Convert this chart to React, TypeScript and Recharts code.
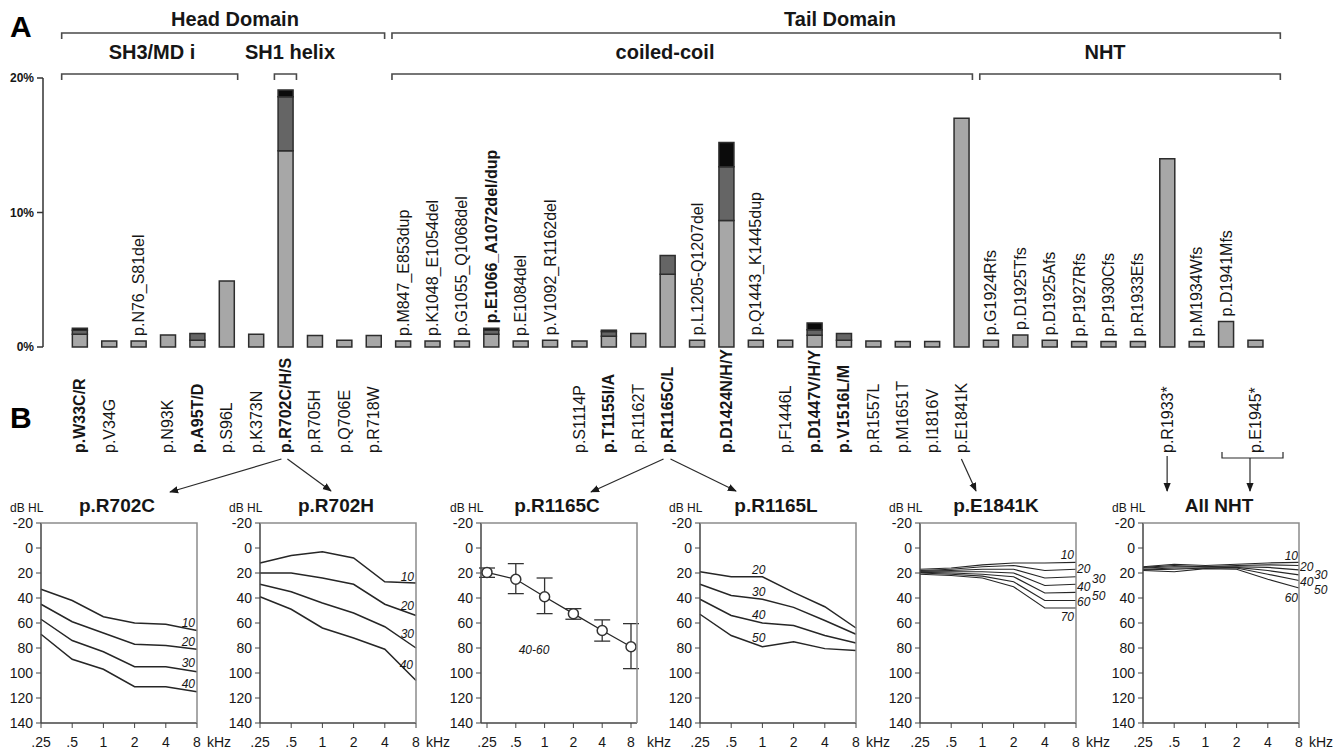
import React from 'react';
import { BarChart, Bar, XAxis, YAxis, LabelList, LineChart, Line, ErrorBar } from 'recharts';

// ---------- Panel A: share of families per MYH9 variant (%) ----------
const mutations = [
  'p.W33C/R', 'p.V34G', 'p.N76_S81del', 'p.N93K', 'p.A95T/D', 'p.S96L', 'p.K373N', 'p.R702C/H/S',
  'p.R705H', 'p.Q706E', 'p.R718W',
  'p.M847_E853dup', 'p.K1048_E1054del', 'p.G1055_Q1068del', 'p.E1066_A1072del/dup', 'p.E1084del',
  'p.V1092_R1162del', 'p.S1114P', 'p.T1155I/A', 'p.R1162T', 'p.R1165C/L', 'p.L1205-Q1207del',
  'p.D1424N/H/Y', 'p.Q1443_K1445dup', 'p.F1446L', 'p.D1447V/H/Y', 'p.V1516L/M', 'p.R1557L',
  'p.M1651T', 'p.I1816V', 'p.E1841K',
  'p.G1924Rfs', 'p.D1925Tfs', 'p.D1925Afs', 'p.P1927Rfs', 'p.P1930Cfs', 'p.R1933Efs', 'p.R1933*',
  'p.M1934Wfs', 'p.D1941Mfs', 'p.E1945*',
];
const lightShare = [
  0.95, 0.45, 0.45, 0.9, 0.5, 4.9, 0.95, 14.6, 0.85, 0.5, 0.85,
  0.45, 0.45, 0.45, 0.95, 0.45, 0.5, 0.45, 0.8, 1.0, 5.4, 0.5, 9.4, 0.5, 0.5, 0.87, 0.5, 0.45, 0.4, 0.4, 17.0,
  0.5, 0.9, 0.5, 0.4, 0.4, 0.4, 14.0, 0.4, 1.9, 0.5,
];
const darkShare = [
  0.3, 0, 0, 0, 0.5, 0, 0, 4.0, 0, 0, 0,
  0, 0, 0, 0.3, 0, 0, 0, 0.35, 0, 1.4, 0, 4.0, 0, 0, 0.42, 0.5, 0, 0, 0, 0,
  0, 0, 0, 0, 0, 0, 0, 0, 0, 0,
];
const blackShare = [
  0.15, 0, 0, 0, 0, 0, 0, 0.5, 0, 0, 0,
  0, 0, 0, 0.15, 0, 0, 0, 0.1, 0, 0, 0, 1.8, 0, 0, 0.5, 0, 0, 0, 0, 0,
  0, 0, 0, 0, 0, 0, 0, 0, 0, 0,
];
const labelAboveBar = [
  'p.N76_S81del', 'p.M847_E853dup', 'p.K1048_E1054del', 'p.G1055_Q1068del', 'p.E1066_A1072del/dup',
  'p.E1084del', 'p.V1092_R1162del', 'p.L1205-Q1207del', 'p.Q1443_K1445dup', 'p.G1924Rfs', 'p.D1925Tfs',
  'p.D1925Afs', 'p.P1927Rfs', 'p.P1930Cfs', 'p.R1933Efs', 'p.M1934Wfs', 'p.D1941Mfs',
];
const boldMutations = [
  'p.W33C/R', 'p.A95T/D', 'p.R702C/H/S', 'p.E1066_A1072del/dup', 'p.T1155I/A', 'p.R1165C/L',
  'p.D1424N/H/Y', 'p.D1447V/H/Y', 'p.V1516L/M',
];
const pctTicks = [0, 10, 20];

// ---------- Panel B: audiograms (dB HL) per age decade ----------
const freqs = ['.25', '.5', '1', '2', '4', '8'];
const dbTicks = [-20, 0, 20, 40, 60, 80, 100, 120, 140];

const r702cAges = ['10', '20', '30', '40'];
const r702cCurves = [
  [33, 42, 55, 60, 61, 66],
  [45, 59, 68, 77, 78, 81],
  [57, 74, 83, 95, 95, 99],
  [69, 89, 97, 111, 111, 115],
];
const r702hAges = ['10', '20', '30', '40'];
const r702hCurves = [
  [12, 6, 3, 8, 27, 28],
  [20, 20, 24, 29, 45, 54],
  [29, 35, 44, 52, 63, 80],
  [39, 49, 64, 72, 81, 106],
];
const r1165cMean = [19.5, 25, 39, 52.5, 66, 79];
const r1165cErrLow = [3.5, 12.5, 15, 4, 8.5, 18.5];
const r1165cErrHigh = [4, 11.5, 13.5, 4.5, 8.5, 17.5];
const r1165lAges = ['20', '30', '40', '50'];
const r1165lCurves = [
  [19, 23, 23, 35.5, 47, 64],
  [29, 38, 41, 47.5, 58, 69],
  [41, 54, 60, 62, 70, 76],
  [53, 70, 79, 75, 80.5, 82],
];
const e1841kAges = ['10', '20', '30', '40', '50', '60', '70'];
const e1841kCurves = [
  [17, 16, 13.5, 12, 12, 11.5],
  [18, 17, 15, 14, 18, 17],
  [18.5, 18, 17, 17, 24, 23],
  [19, 19, 19, 20, 30, 29],
  [19.5, 20, 21, 23, 36, 35.5],
  [20, 21, 22.5, 27, 42, 42],
  [21, 22, 24, 31, 48, 48],
];
const nhtAges = ['10', '20', '30', '40', '50', '60'];
const nhtCurves = [
  [15, 13, 14, 13, 12, 11.5],
  [15.5, 14, 15, 14, 13.5, 14],
  [16, 15, 15, 15, 15.5, 17.5],
  [17, 16, 16, 15.5, 18, 21.5],
  [17.5, 17, 16, 16, 21, 26],
  [18, 19, 16.5, 17, 25, 32],
];

// ---------- styles / layout ----------
const FONT = '"Liberation Sans", Arial, Helvetica, sans-serif';
const LIGHT = '#a7a7a7';
const DARK = '#656565';
const BLACK = '#0b0b0b';
const EDGE = '#2d2d2d';
const AXIS = '#444';
const INK = '#161616';
const LABEL_SIZE = 16;

const A_PLOT_LEFT = 43;
const A_PAD_LEFT = 22;
const A_PLOT_RIGHT = 1270;
const BAND = (A_PLOT_RIGHT - A_PLOT_LEFT - A_PAD_LEFT) / mutations.length;
const bx = (name: string) => A_PLOT_LEFT + A_PAD_LEFT + BAND * (mutations.indexOf(name) + 0.5);
const HALF_BAR = BAND * 0.375;

const vbOf = (p: any) => (p.viewBox && p.viewBox.x !== undefined ? p.viewBox : p);

const topSegment = (i: number) => (blackShare[i] > 0 ? 2 : darkShare[i] > 0 ? 1 : 0);

const barLabel = (segment: number) => (p: any) => {
  const name = p.value as string;
  const i = mutations.indexOf(name);
  if (i < 0 || !labelAboveBar.includes(name) || topSegment(i) !== segment) return null;
  const vb = vbOf(p);
  const cx = Number(vb.x) + Number(vb.width) / 2 + 5.5;
  const ty = Number(vb.y) - 5;
  return (
    <text
      transform={`translate(${cx},${ty}) rotate(-90)`}
      fontSize={LABEL_SIZE}
      fontWeight={boldMutations.includes(name) ? 700 : 400}
      fill={INK}
      fontFamily={FONT}
    >
      {name}
    </text>
  );
};

const MutationTick = (p: any) => {
  const name = p.payload?.value as string;
  if (!name || labelAboveBar.includes(name)) return <g />;
  return (
    <text
      transform={`translate(${Number(p.x) + 5.5},453) rotate(-90)`}
      fontSize={LABEL_SIZE}
      fontWeight={boldMutations.includes(name) ? 700 : 400}
      fill={INK}
      fontFamily={FONT}
    >
      {name}
    </text>
  );
};

type Spot = [number, number, 'start' | 'end'];

interface AudiogramProps {
  plotLeft: number;
  title: string;
  names: string[];
  curves: number[][];
  labelAt?: string;
  spots?: Spot[];
  lineWidth?: number;
  padX?: number;
  errLow?: number[];
  errHigh?: number[];
  note?: string;
}

const PW = 156;
const PH = 200;
const CH_W = 250;
const CH_H = 259;
const Y_W = 41;
const TOP = 33;

function Audiogram({ plotLeft, title, names, curves, labelAt, spots, lineWidth = 1.5, padX = 0, errLow, errHigh, note }: AudiogramProps) {
  const data = freqs.map((f, i) => {
    const row: Record<string, any> = { f };
    curves.forEach((c, k) => {
      row[`c${k}`] = c[i];
    });
    if (errLow && errHigh) row.err = [errLow[i], errHigh[i]];
    return row;
  });
  return (
    <div style={{ position: 'absolute', left: plotLeft - Y_W, top: 490, width: CH_W, height: CH_H }}>
      <LineChart width={CH_W} height={CH_H} data={data} margin={{ top: TOP, right: CH_W - Y_W - PW, left: 0, bottom: 0 }}>
        <XAxis
          dataKey="f"
          interval={0}
          height={26}
          tickSize={5}
          tickMargin={9}
          padding={{ left: padX, right: padX }}
          axisLine={{ stroke: AXIS, strokeWidth: 1.5 }}
          tickLine={{ stroke: AXIS }}
          tick={{ fontSize: 14, fill: INK, fontFamily: FONT }}
        />
        <YAxis
          width={Y_W}
          type="number"
          domain={[-20, 140]}
          ticks={dbTicks}
          reversed
          interval={0}
          allowDataOverflow
          tickSize={5}
          tickMargin={3}
          axisLine={{ stroke: AXIS, strokeWidth: 1.5 }}
          tickLine={{ stroke: AXIS }}
          tick={{ fontSize: 14, fill: INK, fontFamily: FONT }}
        />
        {curves.map((_, k) => (
          <Line
            key={k}
            type="linear"
            dataKey={`c${k}`}
            stroke="#262626"
            strokeWidth={lineWidth}
            dot={errLow ? { r: 5, fill: '#fff', stroke: '#333', strokeWidth: 1.5 } : false}
            isAnimationActive={false}
          >
            {errLow && <ErrorBar dataKey="err" width={8} stroke="#333" strokeWidth={1.3} direction="y" />}
            {labelAt && spots && (
              <LabelList
                dataKey="f"
                content={(p: any) => {
                  if (p.value !== labelAt) return null;
                  const vb = vbOf(p);
                  const [dx, dy, anchor] = spots[k];
                  return (
                    <text
                      x={Number(vb.x) + dx}
                      y={Number(vb.y) + dy}
                      textAnchor={anchor}
                      fontSize={12}
                      fontStyle="italic"
                      fill={INK}
                      fontFamily={FONT}
                    >
                      {names[k]}
                    </text>
                  );
                }}
              />
            )}
          </Line>
        ))}
      </LineChart>
      <svg width={CH_W} height={CH_H} style={{ position: 'absolute', left: 0, top: 0, pointerEvents: 'none', overflow: 'visible' }}>
        <path d={`M${Y_W} ${TOP} H${Y_W + PW} V${TOP + PH}`} fill="none" stroke="#8c8c8c" strokeWidth={1.5} />
        <text x={10} y={22} fontSize={12} fill={INK} fontFamily={FONT}>dB HL</text>
        <text x={Y_W + 76} y={22} fontSize={19} fontWeight={700} textAnchor="middle" fill={INK} fontFamily={FONT}>{title}</text>
        <text x={Y_W + PW + 10} y={257} fontSize={14} fill={INK} fontFamily={FONT}>kHz</text>
        {note && (
          <text x={94} y={164} fontSize={12} fontStyle="italic" textAnchor="middle" fill={INK} fontFamily={FONT}>{note}</text>
        )}
      </svg>
    </div>
  );
}

const r702Spots: Spot[] = [[-2, -4, 'end'], [-2, -3, 'end'], [-2, -5, 'end'], [-2, -4, 'end']];
const r702hSpots: Spot[] = [[-2, -2, 'end'], [-2, -6, 'end'], [-2, -10, 'end'], [-3, -12, 'end']];
const r1165lSpots: Spot[] = [[3, -3, 'end'], [3, -3, 'end'], [3, -4, 'end'], [3, -5, 'end']];
const e1841kSpots: Spot[] = [[-2, -3, 'end'], [1, 4, 'start'], [16, 6, 'start'], [1, 7, 'start'], [16, 8, 'start'], [1, 5, 'start'], [-2, 13, 'end']];
const nhtSpots: Spot[] = [[-1, -2, 'end'], [1, 5, 'start'], [15, 9, 'start'], [1, 11, 'start'], [15, 13, 'start'], [-1, 14, 'end']];

function Annotations() {
  const left = (n: string) => bx(n) - HALF_BAR;
  const right = (n: string) => bx(n) + HALF_BAR;
  const bracket = (x1: number, x2: number, y: number) => `M${x1} ${y + 6} V${y} H${x2} V${y + 6}`;
  const r702 = bx('p.R702C/H/S');
  const r1165 = bx('p.R1165C/L');
  const e1841 = bx('p.E1841K');
  const r1933 = bx('p.R1933*');
  const tailEnd = right('p.E1945*') + 14;
  return (
    <svg width={1343} height={749} style={{ position: 'absolute', left: 0, top: 0, pointerEvents: 'none' }}>
      <defs>
        <marker id="ah" viewBox="0 0 10 10" refX="9" refY="5" markerWidth="9" markerHeight="9" markerUnits="userSpaceOnUse" orient="auto">
          <path d="M0 1 L10 5 L0 9 Z" fill="#1a1a1a" />
        </marker>
      </defs>
      <text x={10} y={37} fontSize={30} fontWeight={700} fill="#000" fontFamily={FONT}>A</text>
      <text x={10} y={428} fontSize={30} fontWeight={700} fill="#000" fontFamily={FONT}>B</text>

      <g fill="none" stroke="#4a4a4a" strokeWidth={1.6}>
        <path d={bracket(left('p.W33C/R') - 7, right('p.R718W'), 33)} />
        <path d={bracket(left('p.M847_E853dup'), tailEnd, 33)} />
        <path d={bracket(left('p.W33C/R') - 7, right('p.S96L'), 74)} />
        <path d={bracket(left('p.R702C/H/S'), right('p.R702C/H/S'), 74)} />
        <path d={bracket(left('p.M847_E853dup'), right('p.E1841K'), 74)} />
        <path d={bracket(left('p.G1924Rfs'), tailEnd, 74)} />
      </g>
      <g fontSize={20} fontWeight={700} textAnchor="middle" fill={INK} fontFamily={FONT}>
        <text x={235} y={26}>Head Domain</text>
        <text x={840} y={26}>Tail Domain</text>
        <text x={152} y={59}>SH3/MD i</text>
        <text x={290} y={59}>SH1 helix</text>
        <text x={665} y={59}>coiled-coil</text>
        <text x={1105} y={59}>NHT</text>
      </g>

      <g fill="none" stroke="#2a2a2a" strokeWidth={1.2}>
        <line x1={r702 - 4} y1={459} x2={170} y2={492} markerEnd="url(#ah)" />
        <line x1={r702 + 2} y1={459} x2={331} y2={491} markerEnd="url(#ah)" />
        <line x1={r1165 - 4} y1={459} x2={591} y2={492} markerEnd="url(#ah)" />
        <line x1={r1165 + 3} y1={459} x2={736} y2={491} markerEnd="url(#ah)" />
        <line x1={e1841} y1={459} x2={976} y2={491} markerEnd="url(#ah)" />
        <line x1={r1933} y1={456} x2={r1933} y2={491} markerEnd="url(#ah)" />
        <path d={`M1222 452 V458 H1283 V452`} />
        <line x1={1250} y1={458} x2={1250} y2={491} markerEnd="url(#ah)" />
      </g>
    </svg>
  );
}

export default function App() {
  const barData = mutations.map((name, i) => ({
    name,
    light: lightShare[i],
    dark: darkShare[i],
    black: blackShare[i],
  }));

  return (
    <div
      style={{
        position: 'absolute',
        left: 0,
        top: 0,
        width: 1343,
        height: 749,
        background: '#fff',
        overflow: 'hidden',
        fontFamily: FONT,
      }}
    >
      <div style={{ position: 'absolute', left: 0, top: 0 }}>
        <BarChart
          width={1300}
          height={470}
          data={barData}
          margin={{ top: 78, right: 1300 - A_PLOT_RIGHT, left: 0, bottom: 0 }}
          barCategoryGap="25%"
        >
          <XAxis
            dataKey="name"
            interval={0}
            height={123}
            axisLine={false}
            tickLine={false}
            padding={{ left: A_PAD_LEFT, right: 0 }}
            tick={(p: any) => <MutationTick {...p} />}
          />
          <YAxis
            width={A_PLOT_LEFT}
            type="number"
            domain={[0, 20]}
            ticks={pctTicks}
            interval={0}
            tickFormatter={(v: number) => `${v}%`}
            tickSize={6}
            tickMargin={3}
            axisLine={{ stroke: '#333', strokeWidth: 1.5 }}
            tickLine={{ stroke: '#333', strokeWidth: 1.5 }}
            tick={{ fontSize: 12, fontWeight: 700, fill: INK, fontFamily: FONT }}
          />
          <Bar dataKey="light" stackId="s" fill={LIGHT} stroke={EDGE} strokeWidth={1.5} isAnimationActive={false}>
            <LabelList dataKey="name" content={barLabel(0)} />
          </Bar>
          <Bar dataKey="dark" stackId="s" fill={DARK} stroke={EDGE} strokeWidth={1.5} isAnimationActive={false}>
            <LabelList dataKey="name" content={barLabel(1)} />
          </Bar>
          <Bar dataKey="black" stackId="s" fill={BLACK} stroke={EDGE} strokeWidth={1.5} isAnimationActive={false}>
            <LabelList dataKey="name" content={barLabel(2)} />
          </Bar>
        </BarChart>
      </div>

      <Audiogram plotLeft={41} title="p.R702C" names={r702cAges} curves={r702cCurves} labelAt="8" spots={r702Spots} />
      <Audiogram plotLeft={260} title="p.R702H" names={r702hAges} curves={r702hCurves} labelAt="8" spots={r702hSpots} />
      <Audiogram
        plotLeft={481}
        title="p.R1165C"
        names={['40-60']}
        curves={[r1165cMean]}
        padX={6}
        errLow={r1165cErrLow}
        errHigh={r1165cErrHigh}
        lineWidth={1.3}
        note="40-60"
      />
      <Audiogram plotLeft={700} title="p.R1165L" names={r1165lAges} curves={r1165lCurves} labelAt="1" spots={r1165lSpots} />
      <Audiogram plotLeft={920} title="p.E1841K" names={e1841kAges} curves={e1841kCurves} labelAt="8" spots={e1841kSpots} lineWidth={1.2} />
      <Audiogram plotLeft={1143} title="All NHT" names={nhtAges} curves={nhtCurves} labelAt="8" spots={nhtSpots} lineWidth={1.2} />

      <Annotations />
    </div>
  );
}
